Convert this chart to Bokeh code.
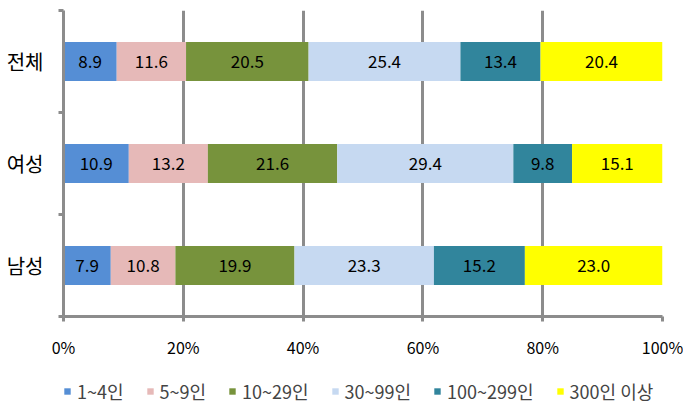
from bokeh.plotting import figure
from bokeh.layouts import column
from bokeh.models import ColumnDataSource, FixedTicker, Legend, LegendItem, Range1d
from bokeh.core.properties import value
from bokeh.embed import file_html
from bokeh.resources import INLINE

groups = ["전체", "여성", "남성"]
series = ["1~4인", "5~9인", "10~29인", "30~99인", "100~299인", "300인 이상"]
v_1_4 = [8.9, 10.9, 7.9]
v_5_9 = [11.6, 13.2, 10.8]
v_10_29 = [20.5, 21.6, 19.9]
v_30_99 = [25.4, 29.4, 23.3]
v_100_299 = [13.4, 9.8, 15.2]
v_300 = [20.4, 15.1, 23.0]
colors = ["#558ED5", "#E6B9B8", "#77933C", "#C6D9F1", "#31859C", "#FFFF00"]
x_ticks = [0, 20, 40, 60, 80, 100]
x_labels = ["0%", "20%", "40%", "60%", "80%", "100%"]

all_vals = [v_1_4, v_5_9, v_10_29, v_30_99, v_100_299, v_300]
ypos = [2.5, 1.5, 0.5]
totals = [sum(v[i] for v in all_vals) for i in range(len(groups))]

FONT = "Noto Sans CJK KR"
GRAY = "#8C8C8C"

p = figure(width=683, height=370, output_backend="svg", toolbar_location=None,
           x_range=Range1d(0, 100), y_range=Range1d(0, 3),
           min_border_left=63, min_border_right=21, min_border_top=10, min_border_bottom=54)
p.outline_line_color = None
p.background_fill_color = "white"
p.border_fill_color = "white"

# separate strip for the legend
lg = figure(width=683, height=40, output_backend="svg", toolbar_location=None,
            x_range=Range1d(0, 1), y_range=Range1d(0, 1),
            x_axis_type=None, y_axis_type=None,
            min_border_left=0, min_border_right=0, min_border_top=0, min_border_bottom=0)
lg.outline_line_color = None
lg.grid.visible = False

left = [0.0] * len(groups)
items = []
for name, vals, col in zip(series, all_vals, colors):
    pct = [v / t * 100 for v, t in zip(vals, totals)]
    right = [l + q for l, q in zip(left, pct)]
    src = ColumnDataSource(dict(y=ypos, left=left, right=right,
                                mid=[(l + r) / 2 for l, r in zip(left, right)],
                                lab=["%.1f" % v for v in vals]))
    p.hbar(y="y", left="left", right="right", height=0.38, source=src,
           fill_color=col, line_color=None)
    p.text(x="mid", y="y", text="lab", source=src, text_align="center",
           text_baseline="middle", text_font=value(FONT), text_font_size="17px",
           text_color="black")
    # legend swatch renderer, kept outside the visible range of the strip
    dummy = lg.quad(left=[5], right=[6], top=[5], bottom=[4], fill_color=col, line_color=None)
    items.append(LegendItem(label=name, renderers=[dummy]))
    left = right

# x axis
p.xaxis.ticker = FixedTicker(ticks=x_ticks)
p.xaxis.major_label_overrides = {t: l for t, l in zip(x_ticks, x_labels)}
p.xaxis.axis_line_color = GRAY
p.xaxis.axis_line_width = 3
p.xaxis.major_tick_line_color = GRAY
p.xaxis.major_tick_line_width = 3
p.xaxis.major_tick_out = 5
p.xaxis.major_tick_in = 0
p.xaxis.minor_tick_line_color = None
p.xaxis.major_label_standoff = 13
p.xaxis.major_label_text_font = FONT
p.xaxis.major_label_text_font_size = "16px"
p.xaxis.major_label_text_color = "black"

# y axis
p.yaxis.ticker = FixedTicker(ticks=ypos, minor_ticks=[0, 1, 2, 3])
p.yaxis.major_label_overrides = {y: g for y, g in zip(ypos, groups)}
p.yaxis.axis_line_color = GRAY
p.yaxis.axis_line_width = 3
p.yaxis.major_tick_line_color = None
p.yaxis.minor_tick_line_color = GRAY
p.yaxis.minor_tick_line_width = 3
p.yaxis.minor_tick_out = 5
p.yaxis.minor_tick_in = 0
p.yaxis.major_label_standoff = 14
p.yaxis.major_label_text_font = FONT
p.yaxis.major_label_text_font_size = "20px"
p.yaxis.major_label_text_color = "black"

p.xgrid.ticker = FixedTicker(ticks=x_ticks)
p.xgrid.grid_line_color = GRAY
p.xgrid.grid_line_width = 3
p.ygrid.grid_line_color = None

legend = Legend(items=items, orientation="horizontal", location=(0, 6),
                glyph_width=8, glyph_height=8, label_standoff=6, spacing=22,
                label_text_font=FONT, label_text_font_size="18px",
                border_line_color=None, background_fill_alpha=0,
                padding=0, margin=0)
lg.add_layout(legend, "center")

layout = column(p, lg, spacing=0)
open("out.html", "w").write(file_html(layout, INLINE))
